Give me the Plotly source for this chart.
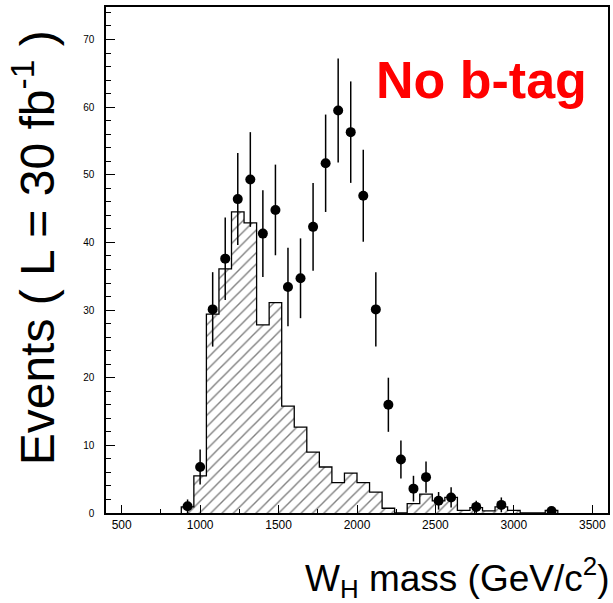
import plotly.graph_objects as go

# Histogram (background) : bin centers (80 GeV bins) and contents
bin_centers = [920, 1000, 1080, 1160, 1240, 1320, 1400, 1480, 1560, 1640, 1720, 1800,
               1880, 1960, 2040, 2120, 2200, 2280, 2360, 2440, 2520, 2600, 2680, 2760,
               2840, 2920, 3000, 3080, 3160, 3240]
bkg_counts = [0.9, 5.5, 29.4, 36.1, 44.5, 42.9, 27.8, 31.1, 15.8, 12.7, 9.0, 6.8,
              4.5, 5.9, 4.5, 3.1, 0.7, 0.0, 1.4, 2.8, 1.8, 2.3, 0.4, 0.8,
              0.3, 0.9, 0.4, 0.0, 0.0, 0.4]
bin_width = 80

# Data points (signal + background)
pt_mass = [920, 1000, 1080, 1160, 1240, 1320, 1400, 1480, 1560, 1640, 1720, 1800,
           1880, 1960, 2040, 2120, 2200, 2280, 2360, 2440, 2520, 2600, 2760, 2920, 3240]
pt_events = [1.0, 6.8, 30.1, 37.6, 46.4, 49.3, 41.3, 44.8, 33.4, 34.7, 42.3, 51.7,
             59.5, 56.3, 46.9, 30.1, 16.0, 7.9, 3.6, 5.3, 1.8, 2.3, 0.9, 1.2, 0.3]
pt_err = [1.0, 2.6, 5.5, 6.1, 6.8, 7.0, 6.4, 6.7, 5.8, 5.9, 6.5, 7.2,
          7.7, 7.5, 6.8, 5.5, 4.0, 2.8, 1.9, 2.3, 1.3, 1.5, 0.9, 1.1, 0.5]

x_ticks = [500, 1000, 1500, 2000, 2500, 3000, 3500]
y_ticks = [0, 10, 20, 30, 40, 50, 60, 70]

fig = go.Figure()

# hatched histogram fill
fig.add_trace(go.Bar(
    x=bin_centers, y=bkg_counts, width=[bin_width] * len(bin_centers),
    marker=dict(color="white", line=dict(width=0),
                pattern=dict(shape="/", fgcolor="black", bgcolor="white",
                             size=8, solidity=0.17)),
    showlegend=False, hoverinfo="skip"))

# step outline of histogram
edges = [c - bin_width / 2 for c in bin_centers]
step_x = [edges[0]] + edges + [bin_centers[-1] + bin_width / 2]
step_y = [0] + bkg_counts + [0]
fig.add_trace(go.Scatter(x=step_x, y=step_y, mode="lines", line_shape="hv",
                         line=dict(color="black", width=1.3),
                         showlegend=False, hoverinfo="skip"))

# data points with error bars
fig.add_trace(go.Scatter(
    x=pt_mass, y=pt_events, mode="markers",
    marker=dict(symbol="circle", size=10, color="black"),
    error_y=dict(type="data", array=pt_err, color="black", thickness=1.5, width=0),
    showlegend=False))

L, R, T, B = 106, 3, 7, 90
W, H = 613, 603
pw, ph = W - L - R, H - T - B

def px(x):
    return (x - L) / pw

def py(y):
    return (H - B - y) / ph

fig.update_layout(
    width=W, height=H, margin=dict(l=L, r=R, t=T, b=B),
    paper_bgcolor="white", plot_bgcolor="white", bargap=0,
    font=dict(family="Liberation Sans, Arial, sans-serif", color="black"),
    xaxis=dict(range=[400, 3600], tickvals=x_ticks, ticks="inside", ticklen=8,
               tickwidth=1, tickcolor="black", showline=True, linecolor="black",
               linewidth=1.5, mirror=True, showgrid=False, zeroline=False,
               tickfont=dict(size=12),
               minor=dict(dtick=250, tick0=500, ticks="inside", ticklen=4,
                          tickcolor="black", showgrid=False)),
    yaxis=dict(range=[0, 74.8], tickvals=y_ticks, ticks="inside", ticklen=9,
               tickwidth=1, tickcolor="black", showline=True, linecolor="black",
               linewidth=1.5, mirror=True, showgrid=False, zeroline=False,
               tickfont=dict(size=10), ticklabelstandoff=8,
               minor=dict(dtick=2, tick0=0, ticks="inside", ticklen=5,
                          tickcolor="black", showgrid=False)),
)

fig.add_annotation(text="Events ( L = 30 fb<sup>-1</sup> )", textangle=-90,
                   xref="paper", yref="paper", x=px(34), y=py(248),
                   xanchor="center", yanchor="middle", showarrow=False,
                   font=dict(size=48, color="black"))
fig.add_annotation(text="W<sub>H</sub> mass (GeV/c<sup>2</sup>)",
                   xref="paper", yref="paper", x=px(304), y=py(577),
                   xanchor="left", yanchor="middle", showarrow=False,
                   font=dict(size=37, color="black"))
fig.add_annotation(text="<b>No b-tag</b>",
                   xref="paper", yref="paper", x=px(483), y=py(80),
                   xanchor="center", yanchor="middle", showarrow=False,
                   font=dict(size=52, color="#ff0000"))

fig.write_html("out.html")
